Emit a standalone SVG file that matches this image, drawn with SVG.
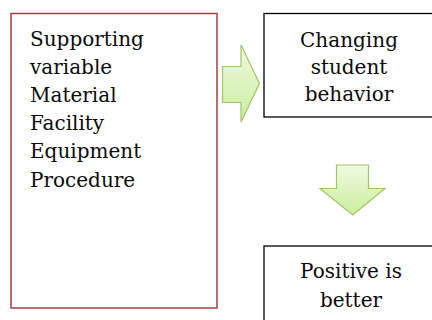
<svg xmlns="http://www.w3.org/2000/svg" width="432" height="320" viewBox="0 0 432 320">
  <defs>
    <linearGradient id="g" x1="0" y1="0" x2="0" y2="1">
      <stop offset="0" stop-color="#f0fae2"/>
      <stop offset="1" stop-color="#c9ee9c"/>
    </linearGradient>
    <style>
      .box { fill: #ffffff; stroke: #000000; stroke-width: 1.3; }
      .left { fill: #ffffff; stroke: #a5403c; stroke-width: 1.5; }
      .arrow { fill: url(#g); stroke: #a3c46a; stroke-width: 1.2; stroke-linejoin: miter; }
      text { font-family: "DejaVu Serif", "Liberation Serif", serif; font-size: 20px; fill: #0a0a0a; }
      .c { text-anchor: middle; }
    </style>
  </defs>
  <rect width="432" height="320" fill="#ffffff"/>
  <g id="supporting">
    <rect class="left" x="11" y="13.5" width="206" height="294.5"/>
    <text x="30" y="45.5">Supporting</text>
    <text x="30" y="73.8">variable</text>
    <text x="30" y="102">Material</text>
    <text x="30" y="130.2">Facility</text>
    <text x="30" y="158.4">Equipment</text>
    <text x="30" y="186.6">Procedure</text>
  </g>
  <g id="changing">
    <rect class="box" x="264" y="13.5" width="180" height="103.5"/>
    <text class="c" x="349" y="46.5">Changing</text>
    <text class="c" x="349" y="73.5">student</text>
    <text class="c" x="349" y="100.5">behavior</text>
  </g>
  <g id="positive">
    <rect class="box" x="264" y="246" width="180" height="90"/>
    <text class="c" x="351" y="278">Positive is</text>
    <text class="c" x="351" y="306.5">better</text>
  </g>
  <g id="connectors">
    <polygon class="arrow" points="222.5,66.5 241,66.5 241,45 259.5,83.5 241,122 241,102.5 222.5,102.5"/>
    <polygon class="arrow" points="336.5,165 368.5,165 368.5,188.5 385,188.5 352.7,215 320,188.5 336.5,188.5"/>
  </g>
</svg>
